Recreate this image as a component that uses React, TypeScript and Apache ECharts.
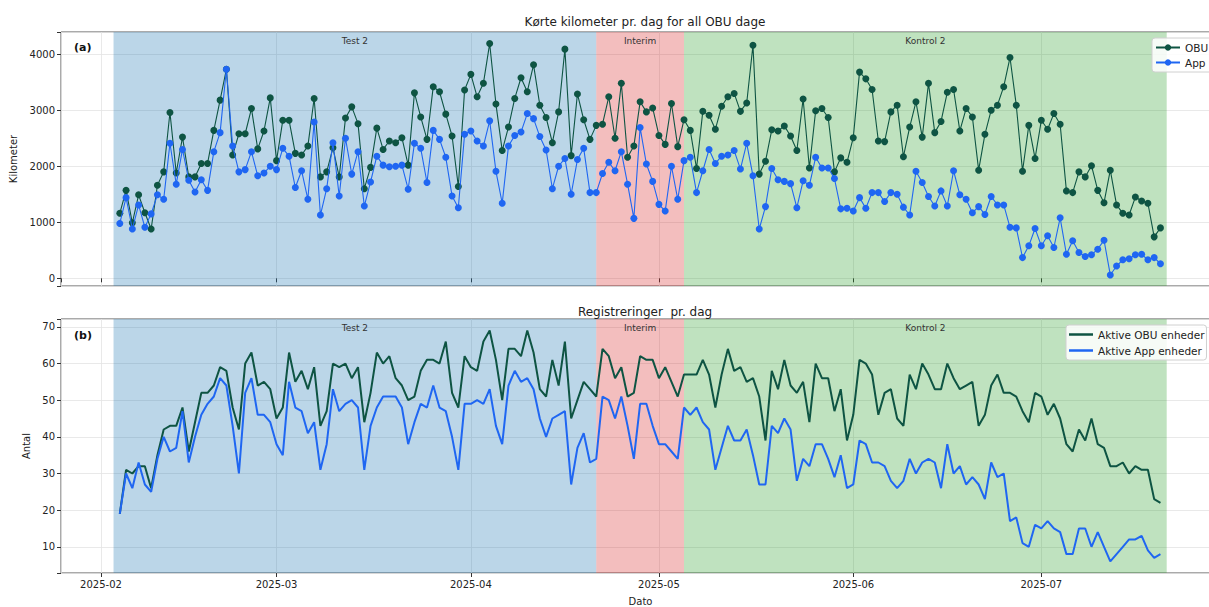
import React, { useEffect, useRef } from "react";
import * as echarts from "echarts";

// First day with data and the daily values (2025-02-04 .. 2025-07-20)
const startDay = [2025, 1, 4];

const obuKm = [
  1160, 1570, 990, 1490, 1170, 880, 1660, 1900, 2960, 1880, 2520, 1810, 1810, 2050, 2050, 2640, 3180, 3730,
  2200, 2580, 2580, 3030, 2310, 2630, 3220, 2100, 2820, 2820, 2230, 2200, 2360, 3210, 1810, 1900, 2330, 1810,
  2860, 3060, 2760, 1600, 1980, 2680, 2300, 2450, 2420, 2510, 2020, 3310, 2880, 2480, 3420, 3330, 2930, 2540,
  1640, 3360, 3640, 3240, 3480, 4190, 3110, 2280, 2700, 3210, 3580, 3330, 3810, 3090, 2870, 2420, 2970, 4090,
  2190, 3290, 2830, 2480, 2730, 2750, 3240, 2500, 3480, 2160, 2360, 3150, 2970, 3040, 2550, 2390, 3120, 2350,
  2830, 2640, 1960, 2980, 2910, 2660, 3070, 3240, 3300, 2980, 3130, 4160, 1860, 2090, 2650, 2630, 2720, 2540,
  2280, 3200, 1970, 2990, 3030, 2870, 1900, 2150, 2070, 2510, 3680, 3560, 3370, 2450, 2440, 2970, 3090, 2170,
  2700, 3150, 2520, 3480, 2600, 2800, 3320, 3370, 2630, 3030, 2880, 1930, 2570, 3000, 3090, 3420, 3940, 3090,
  1910, 2730, 2140, 2820, 2660, 2940, 2750, 1560, 1530, 1900, 1810, 2010, 1570, 1350, 1930, 1310, 1160, 1130,
  1450, 1380, 1340, 740, 900,
];

const appKm = [
  980, 1440, 880, 1310, 910, 1150, 1490, 1410, 2410, 1680, 2300, 1750, 1540, 1760, 1570, 2260, 2600, 3730,
  2360, 1900, 1940, 2260, 1830, 1880, 2000, 1940, 2320, 2180, 1620, 1920, 1410, 2790, 1130, 1600, 2420, 1470,
  2500, 1860, 2260, 1290, 1720, 2180, 2020, 1990, 2000, 2020, 1590, 2410, 2320, 1710, 2640, 2480, 2160, 1470,
  1260, 2570, 2630, 2450, 2360, 2810, 1910, 1340, 2360, 2550, 2610, 2940, 2850, 2530, 2290, 1600, 2000, 2140,
  1500, 2120, 2320, 1530, 1530, 1870, 2070, 1920, 2260, 1680, 1070, 2690, 2040, 1730, 1320, 1200, 2000, 1410,
  2100, 2160, 1530, 1920, 2300, 2050, 2180, 2200, 2280, 1950, 2410, 1830, 880, 1280, 1960, 1760, 1730, 1690,
  1260, 1740, 1660, 2160, 1970, 1970, 1780, 1240, 1250, 1200, 1440, 1250, 1530, 1530, 1370, 1530, 1500, 1270,
  1130, 1910, 1710, 1460, 1290, 1560, 1290, 1920, 1490, 1410, 1170, 1280, 1140, 1460, 1310, 1310, 910, 900,
  370, 580, 890, 580, 760, 550, 1080, 430, 670, 460, 390, 420, 520, 680, 60, 220, 330, 350,
  420, 430, 330, 370, 260,
];

const obuActive = [
  19, 31, 30, 32, 32, 26, 35, 42, 43, 43, 48, 36, 44, 52, 52, 54, 59, 58,
  48, 42, 60, 63, 54, 55, 53, 45, 48, 63, 55, 58, 53, 59, 43, 47, 60, 59,
  60, 56, 59, 44, 52, 63, 60, 62, 56, 54, 50, 51, 58, 61, 61, 60, 66, 52,
  48, 62, 59, 58, 66, 69, 61, 50, 64, 64, 62, 69, 63, 53, 51, 61, 54, 66,
  45, 50, 55, 53, 51, 64, 62, 56, 59, 51, 52, 62, 61, 61, 56, 59, 55, 51,
  57, 57, 57, 61, 57, 48, 57, 64, 58, 59, 55, 56, 51, 39, 58, 53, 61, 54,
  52, 55, 44, 60, 56, 56, 47, 53, 39, 46, 61, 60, 57, 46, 52, 53, 45, 43,
  57, 53, 60, 57, 53, 53, 60, 56, 53, 54, 55, 43, 46, 54, 57, 52, 52, 51,
  47, 44, 52, 51, 46, 49, 45, 38, 36, 42, 39, 45, 38, 37, 32, 32, 33, 30,
  32, 31, 31, 23, 22,
];

const appActive = [
  19, 30, 26, 33, 27, 25, 34, 40, 36, 37, 47, 33, 40, 46, 49, 51, 56, 54,
  43, 30, 52, 56, 46, 46, 44, 38, 35, 55, 48, 47, 41, 44, 31, 38, 53, 47,
  49, 50, 48, 31, 43, 48, 51, 51, 51, 48, 38, 44, 49, 48, 54, 48, 47, 40,
  31, 49, 49, 50, 49, 53, 43, 38, 54, 58, 55, 56, 53, 45, 40, 45, 46, 47,
  27, 37, 41, 33, 34, 51, 50, 45, 51, 43, 34, 49, 49, 43, 38, 38, 36, 34,
  48, 46, 48, 44, 42, 31, 37, 43, 39, 39, 42, 35, 27, 27, 43, 41, 45, 42,
  28, 34, 32, 38, 38, 34, 29, 35, 26, 27, 39, 38, 33, 33, 32, 28, 26, 28,
  34, 30, 33, 34, 33, 26, 38, 30, 32, 27, 29, 27, 23, 33, 29, 30, 17, 18,
  11, 10, 16, 15, 17, 15, 14, 8, 8, 15, 15, 10, 14, 10, 6, 8, 10, 12,
  12, 13, 9, 7, 8,
];

const periodNames = ["Test 2", "Interim", "Kontrol 2"];
const periodStarts = ["2025-02-03", "2025-04-21", "2025-05-05"];
const periodEnds = ["2025-04-21", "2025-05-05", "2025-07-21"];
const periodColors = ["rgba(31,119,180,0.3)", "rgba(214,39,40,0.3)", "rgba(44,160,44,0.3)"];

const DAY = 86400000;
const parseDay = (s: string) => {
  const [y, m, d] = s.split("-").map(Number);
  return new Date(y, m - 1, d).getTime();
};
const dayAt = (i: number) => new Date(startDay[0], startDay[1], startDay[2] + i).getTime();
const FEB1 = new Date(2025, 1, 1).getTime();

const DARK = "#0e5443";
const BLUE = "#1f66f2";
const FONT = "DejaVu Sans";

export default function App() {
  const ref = useRef<HTMLDivElement>(null);
  useEffect(() => {
    if (!ref.current) return;
    const chart = echarts.init(ref.current, undefined, { renderer: "svg" });
    const pair = (arr: number[]) => arr.map((v, i) => [dayAt(i), v]);
    const markArea = {
      silent: true,
      data: periodNames.map((n, i) => [
        {
          name: n,
          xAxis: parseDay(periodStarts[i]),
          itemStyle: { color: periodColors[i] },
        },
        { xAxis: parseDay(periodEnds[i]) },
      ]),
      label: {
        show: true,
        position: "insideTop",
        distance: 4,
        fontSize: 9,
        color: "#333",
        fontFamily: FONT,
      },
    };
    const xMin = FEB1 - 6.38 * DAY;
    const xMax = FEB1 + 178.5 * DAY;
    const xCommon = (gi: number, showLabels: boolean) => ({
      type: "time",
      gridIndex: gi,
      min: xMin,
      max: xMax,
      splitNumber: 6,
      minInterval: 28 * DAY,
      maxInterval: 31 * DAY,
      axisLine: { show: false },
      axisTick: { show: true, length: 4, lineStyle: { color: "#333" } },
      splitLine: { show: true, lineStyle: { color: "#e3e3e3", width: 0.8 } },
      axisLabel: {
        show: showLabels,
        formatter: "{yyyy}-{MM}",
        fontSize: 10,
        color: "#222",
        fontFamily: FONT,
        margin: 6,
      },
      ...(showLabels
        ? {
            name: "Dato",
            nameLocation: "middle",
            nameGap: 23,
            nameTextStyle: { fontSize: 10, color: "#222", fontFamily: FONT },
          }
        : {}),
    });
    const legendBase = {
      orient: "vertical",
      itemWidth: 24,
      backgroundColor: "rgba(255,255,255,0.85)",
      borderColor: "#d0d0d0",
      borderWidth: 1,
      borderRadius: 3,
      textStyle: { fontSize: 10.5, color: "#222", fontFamily: FONT },
    };
    chart.setOption({
      animation: false,
      textStyle: { fontFamily: FONT },
      title: [
        {
          text: "Kørte kilometer pr. dag for all OBU dage",
          left: 640,
          top: 11,
          textAlign: "center",
          textStyle: { fontSize: 12, fontWeight: "normal", color: "#222", fontFamily: FONT },
        },
        {
          text: "Registreringer  pr. dag",
          left: 640,
          top: 301,
          textAlign: "center",
          textStyle: { fontSize: 12, fontWeight: "normal", color: "#222", fontFamily: FONT },
        },
      ],
      grid: [
        { left: 61, top: 32, width: 1159, height: 254, show: true, borderColor: "#555", borderWidth: 1, backgroundColor: "transparent" },
        { left: 61, top: 319, width: 1159, height: 254, show: true, borderColor: "#555", borderWidth: 1, backgroundColor: "transparent" },
      ],
      xAxis: [xCommon(0, false), xCommon(1, true)],
      yAxis: [
        {
          type: "value",
          gridIndex: 0,
          min: -137,
          max: 4396,
          axisLine: { show: false },
          axisTick: { show: true, length: 4, lineStyle: { color: "#333" } },
          splitLine: { show: true, lineStyle: { color: "#e3e3e3", width: 0.8 } },
          axisLabel: {
            fontSize: 10,
            color: "#222",
            margin: 6,
            formatter: (v: number) => (Math.abs(v % 1000) < 1e-6 ? String(v) : ""),
          },
          name: "Kilometer",
          nameLocation: "middle",
          nameGap: 30,
          nameTextStyle: { fontSize: 10, color: "#222" },
        },
        {
          type: "value",
          gridIndex: 1,
          min: 2.85,
          max: 72.15,
          axisLine: { show: false },
          axisTick: { show: true, length: 4, lineStyle: { color: "#333" } },
          splitLine: { show: true, lineStyle: { color: "#e3e3e3", width: 0.8 } },
          axisLabel: {
            fontSize: 10,
            color: "#222",
            margin: 6,
            formatter: (v: number) => (Math.abs(v % 10) < 1e-6 ? String(v) : ""),
          },
          name: "Antal",
          nameLocation: "middle",
          nameGap: 30,
          nameTextStyle: { fontSize: 10, color: "#222" },
        },
      ],
      legend: [
        {
          ...legendBase,
          data: ["OBU", "App"],
          left: 1152,
          top: 38,
          itemHeight: 8,
          itemGap: 4,
          padding: [4, 6, 4, 3],
        },
        {
          ...legendBase,
          data: ["Aktive OBU enheder", "Aktive App enheder"],
          left: 1066,
          top: 325,
          icon: "rect",
          itemHeight: 2.5,
          itemGap: 5,
          itemTextGap: 4,
          padding: [4, 2, 4, 3],
        },
      ],
      series: [
        {
          type: "line",
          xAxisIndex: 0,
          yAxisIndex: 0,
          data: pair(obuKm),
          symbol: "none",
          lineStyle: { opacity: 0 },
          silent: true,
          z: -1,
          markArea,
        },
        {
          type: "line",
          xAxisIndex: 1,
          yAxisIndex: 1,
          data: pair(obuActive),
          symbol: "none",
          lineStyle: { opacity: 0 },
          silent: true,
          z: -1,
          markArea,
        },
        {
          name: "OBU",
          type: "line",
          xAxisIndex: 0,
          yAxisIndex: 0,
          data: pair(obuKm),
          symbol: "circle",
          symbolSize: 7,
          showSymbol: true,
          itemStyle: { color: DARK },
          lineStyle: { color: DARK, width: 1.1 },
          z: 3,
        },
        {
          name: "App",
          type: "line",
          xAxisIndex: 0,
          yAxisIndex: 0,
          data: pair(appKm),
          symbol: "circle",
          symbolSize: 7,
          showSymbol: true,
          itemStyle: { color: BLUE },
          lineStyle: { color: BLUE, width: 1.1 },
          z: 4,
        },
        {
          name: "Aktive OBU enheder",
          type: "line",
          xAxisIndex: 1,
          yAxisIndex: 1,
          data: pair(obuActive),
          symbol: "none",
          itemStyle: { color: DARK },
          lineStyle: { color: DARK, width: 2 },
          z: 3,
        },
        {
          name: "Aktive App enheder",
          type: "line",
          xAxisIndex: 1,
          yAxisIndex: 1,
          data: pair(appActive),
          symbol: "none",
          itemStyle: { color: BLUE },
          lineStyle: { color: BLUE, width: 2 },
          z: 4,
        },
      ],
      graphic: [
        { type: "text", left: 74, top: 42, style: { text: "(a)", font: `bold 11px "${FONT}"`, fill: "#111" } },
        { type: "text", left: 74, top: 330, style: { text: "(b)", font: `bold 11px "${FONT}"`, fill: "#111" } },
      ],
    });
    return () => chart.dispose();
  }, []);
  return (
    <div
      style={{
        position: "fixed",
        left: 0,
        top: 0,
        width: 1209,
        height: 607,
        overflow: "hidden",
        background: "#fff",
      }}
    >
      <div ref={ref} style={{ width: 1224, height: 607 }} />
    </div>
  );
}
